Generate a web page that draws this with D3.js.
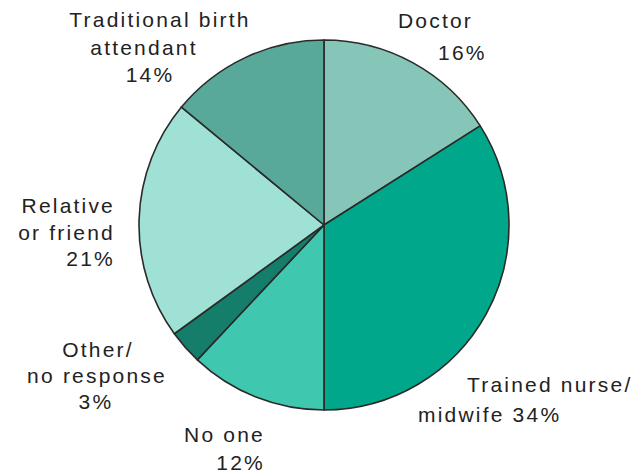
<!DOCTYPE html>
<html>
<head>
<meta charset="utf-8">
<script src="https://cdn.jsdelivr.net/npm/d3@7"></script>
<style>
    body { margin: 0; background: #fff; }
    text { font-family: "Liberation Sans", Arial, sans-serif; font-size: 21px; letter-spacing: 2.2px; fill: #222; }
</style>
</head>
<body>
<svg width="638" height="474"></svg>
<script>
// slice data, clockwise from 12 o'clock
var categories = ["Doctor", "Trained nurse/midwife", "No one", "Other/no response", "Relative or friend", "Traditional birth attendant"];
var shares = [16, 34, 12, 3, 21, 14];
var colors = ["#86c6b8", "#00a78a", "#3fc7b0", "#157e6a", "#a0e1d6", "#58a999"];

// label text lines for each slice
var labelLines = [
    ["Doctor", "16%"],
    ["Trained nurse/", "midwife 34%"],
    ["No one", "12%"],
    ["Other/", "no response", "3%"],
    ["Relative", "or friend", "21%"],
    ["Traditional birth", "attendant", "14%"]
];

var svg = d3.select("svg");
var cx = 324, cy = 225, radius = 185;

var pie = d3.pie().sort(null).value(function(d) { return d; });
var arc = d3.arc().innerRadius(0).outerRadius(radius);

var g = svg.append("g").attr("transform", "translate(" + cx + "," + cy + ")");

g.selectAll("path")
    .data(pie(shares))
    .enter()
    .append("path")
    .attr("d", arc)
    .attr("fill", function(d, i) { return colors[i]; })
    .attr("stroke", "#2a2a2a")
    .attr("stroke-width", 1.6)
    .attr("stroke-linejoin", "round");

// label placement (x, anchor, first baseline, line step) per slice
var labelPos = [
    { lines: [[398, "start"], [438, "start"]], y: 28, dy: 32 },
    { lines: [[467, "start"], [418, "start"]], y: 392, dy: 30 },
    { lines: [[265, "end"], [265, "end"]], y: 442, dy: 28 },
    { lines: [[98, "middle"], [97, "middle"], [96, "middle"]], y: 357, dy: 26 },
    { lines: [[115, "end"], [115, "end"], [115, "end"]], y: 213, dy: 26.5 },
    { lines: [[160, "middle"], [144, "middle"], [150, "middle"]], y: 27, dy: 27.5 }
];

labelLines.forEach(function(lines, i) {
    var p = labelPos[i];
    lines.forEach(function(t, j) {
        svg.append("text")
            .attr("x", p.lines[j][0])
            .attr("y", p.y + j * p.dy)
            .attr("text-anchor", p.lines[j][1])
            .text(t);
    });
});
</script>
</body>
</html>
